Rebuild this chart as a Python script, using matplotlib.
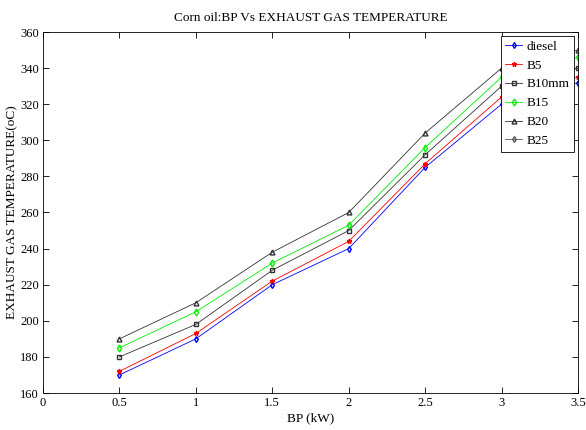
import numpy as np
import matplotlib
matplotlib.use("Agg")
import matplotlib.pyplot as plt

plt.rcParams['font.family'] = ['Liberation Serif', 'DejaVu Serif']

bp = [0.5, 1, 1.5, 2, 2.5, 3, 3.5]
diesel = [170, 190, 220, 240, 285, 320, 332]
b5 = [172, 193, 222, 244, 287, 324, 335]
b10 = [180, 198, 228, 250, 292, 330, 340]
b15 = [185, 205, 232, 253, 296, 335, 346]
b20 = [190, 210, 238, 260, 304, 340, 350]
b25 = []  # listed in legend, not visible in plot

fig = plt.figure(figsize=(5.86, 4.30), dpi=100)
ax = fig.add_axes([43/586, 37/430, 535/586, 361/430])

ax.plot(bp, diesel, color='blue', marker='d', ms=3, mfc='none', lw=0.6, label='diesel')
ax.plot(bp, b5, color='red', marker='*', ms=3.5, lw=0.6, label='B5')
ax.plot(bp, b10, color='#333333', marker='s', ms=3.5, mfc='none', lw=0.6, label='B10mm')
ax.plot(bp, b15, color='#00ee00', marker='d', ms=3.5, mfc='none', lw=0.6, label='B15')
ax.plot(bp, b20, color='#333333', marker='^', ms=3.5, mfc='none', lw=0.6, label='B20')
ax.plot(b25, b25, color='#555555', marker='d', ms=3, mfc='none', lw=0.6, label='B25')

ax.set_xlim(0, 3.5)
ax.set_ylim(160, 360)
ax.set_xticks(np.arange(0, 3.51, 0.5))
ax.set_xticklabels(['0', '0.5', '1', '1.5', '2', '2.5', '3', '3.5'])
ax.set_yticks(np.arange(160, 361, 20))
ax.tick_params(direction='in', top=True, right=True, labelsize=9, length=4, width=0.6, pad=3)
for s in ax.spines.values():
    s.set_linewidth(0.6)

ax.set_title('Corn oil:BP Vs EXHAUST GAS TEMPERATURE', fontsize=9.5, pad=8)
ax.set_xlabel('BP (kW)', fontsize=9.5, labelpad=2)
ax.set_ylabel('EXHAUST GAS TEMPERATURE(oC)', fontsize=9.5, labelpad=1)

leg = ax.legend(loc='upper right', fontsize=9.5, handlelength=1.3, handletextpad=0.3,
                borderpad=0.35, labelspacing=0.5, fancybox=False, framealpha=1,
                borderaxespad=0.3)
leg.get_frame().set_edgecolor('black')
leg.get_frame().set_linewidth(0.6)

fig.savefig('out.png', dpi=100)
